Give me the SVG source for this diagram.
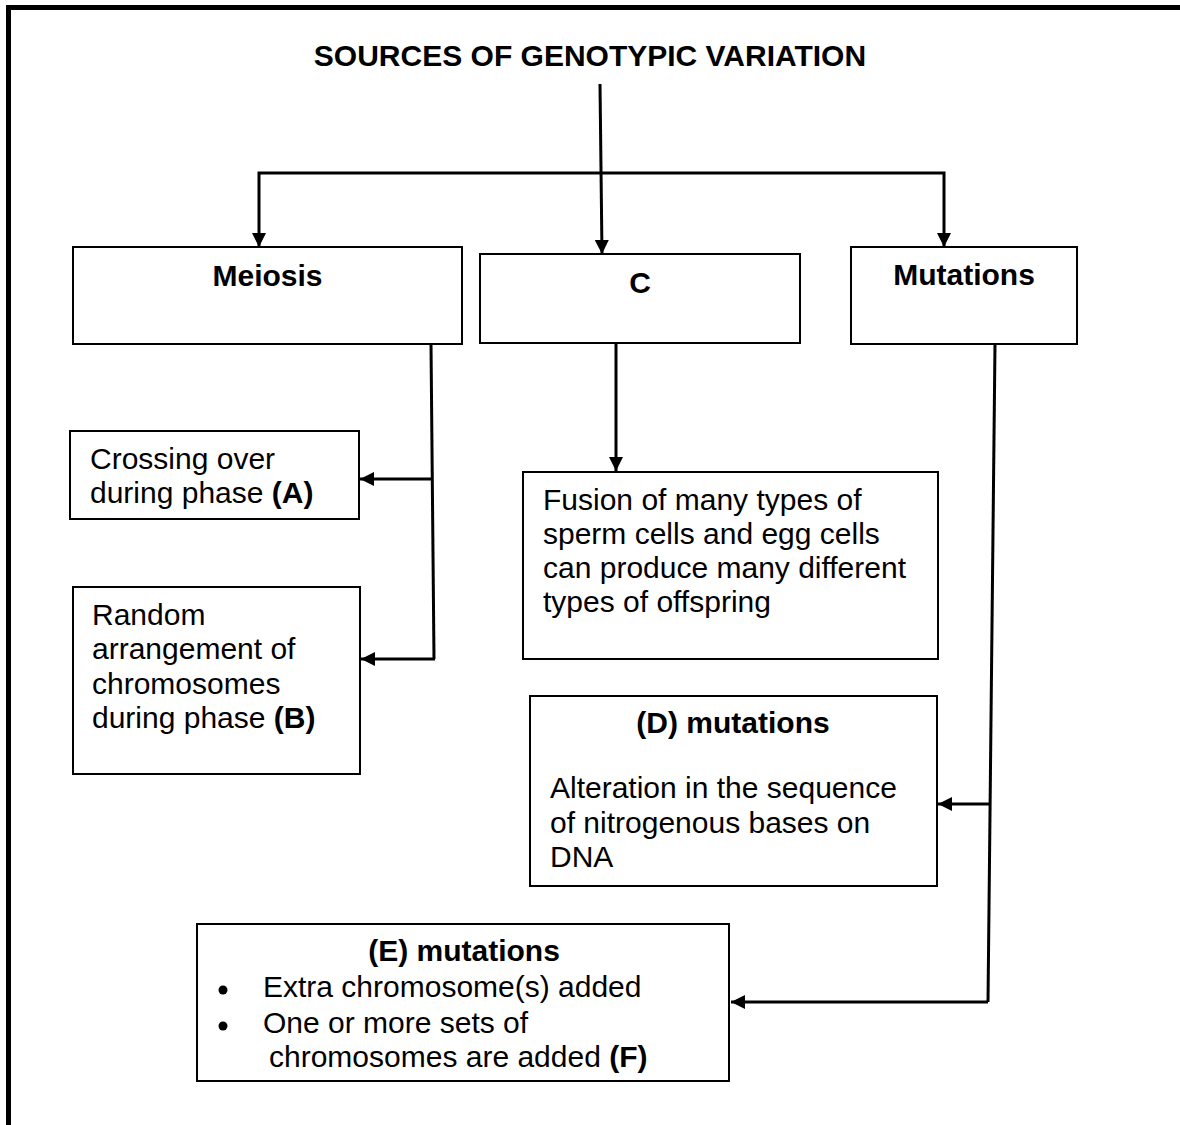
<svg xmlns="http://www.w3.org/2000/svg" width="1180" height="1125" viewBox="0 0 1180 1125">
<style>
text{font-family:"Liberation Sans",Arial,sans-serif;font-size:30px;fill:#000}
.b{font-weight:bold}
.m{text-anchor:middle}
.box{fill:#fff;stroke:#000;stroke-width:2}
.ln{fill:none;stroke:#000;stroke-width:3}
</style>
<defs>
<marker id="ah" markerUnits="userSpaceOnUse" markerWidth="14" markerHeight="14" refX="14" refY="7" orient="auto">
<path d="M0,0 L14,7 L0,14 Z" fill="#000"/>
</marker>
</defs>
<rect width="1180" height="1125" fill="#fff"/>
<g id="frame">
<path d="M8.5,1125 V7.5 H1180" fill="none" stroke="#000" stroke-width="5"/>
</g>
<g id="title">
<text class="b m" x="590" y="66">SOURCES OF GENOTYPIC VARIATION</text>
</g>
<g id="connectors">
<path class="ln" d="M600,84 L602,254" marker-end="url(#ah)"/>
<path class="ln" d="M259,247 V173 H944 V247" />
<path d="M252,233 L259,247 L266,233 Z M937,233 L944,247 L951,233 Z" fill="#000"/>
<path class="ln" d="M431,344 L434,659" />
<path class="ln" d="M432,479 H360" marker-end="url(#ah)"/>
<path class="ln" d="M435,659 H361" marker-end="url(#ah)"/>
<path class="ln" d="M616,343 V471" marker-end="url(#ah)"/>
<path class="ln" d="M995,344 L988,1002" />
<path class="ln" d="M990,804 H938" marker-end="url(#ah)"/>
<path class="ln" d="M988,1002 H731" marker-end="url(#ah)"/>
</g>
<g id="meiosis">
<rect class="box" x="73" y="247" width="389" height="97"/>
<text class="b m" x="267.5" y="286">Meiosis</text>
</g>
<g id="c">
<rect class="box" x="480" y="254" width="320" height="89"/>
<text class="b m" x="640" y="293">C</text>
</g>
<g id="mutations">
<rect class="box" x="851" y="247" width="226" height="97"/>
<text class="b m" x="964" y="285">Mutations</text>
</g>
<g id="crossing">
<rect class="box" x="70" y="431" width="289" height="88"/>
<text x="90" y="469">Crossing over</text>
<text x="90" y="503">during phase <tspan class="b">(A)</tspan></text>
</g>
<g id="random">
<rect class="box" x="73" y="587" width="287" height="187"/>
<text x="92" y="625">Random</text>
<text x="92" y="659">arrangement of</text>
<text x="92" y="694">chromosomes</text>
<text x="92" y="728">during phase <tspan class="b">(B)</tspan></text>
</g>
<g id="fusion">
<rect class="box" x="523" y="472" width="415" height="187"/>
<text x="543" y="510">Fusion of many types of</text>
<text x="543" y="544">sperm cells and egg cells</text>
<text x="543" y="578">can produce many different</text>
<text x="543" y="612">types of offspring</text>
</g>
<g id="d-mutations">
<rect class="box" x="530" y="696" width="407" height="190"/>
<text class="b m" x="733" y="733">(D) mutations</text>
<text x="550" y="798">Alteration in the sequence</text>
<text x="550" y="833">of nitrogenous bases on</text>
<text x="550" y="867">DNA</text>
</g>
<g id="e-mutations">
<rect class="box" x="197" y="924" width="532" height="157"/>
<text class="b m" x="464" y="961">(E) mutations</text>
<circle cx="223" cy="990" r="4.5"/>
<text x="263" y="997">Extra chromosome(s) added</text>
<circle cx="223" cy="1026" r="4.5"/>
<text x="263" y="1033">One or more sets of</text>
<text x="269" y="1067">chromosomes are added <tspan class="b">(F)</tspan></text>
</g>
</svg>
